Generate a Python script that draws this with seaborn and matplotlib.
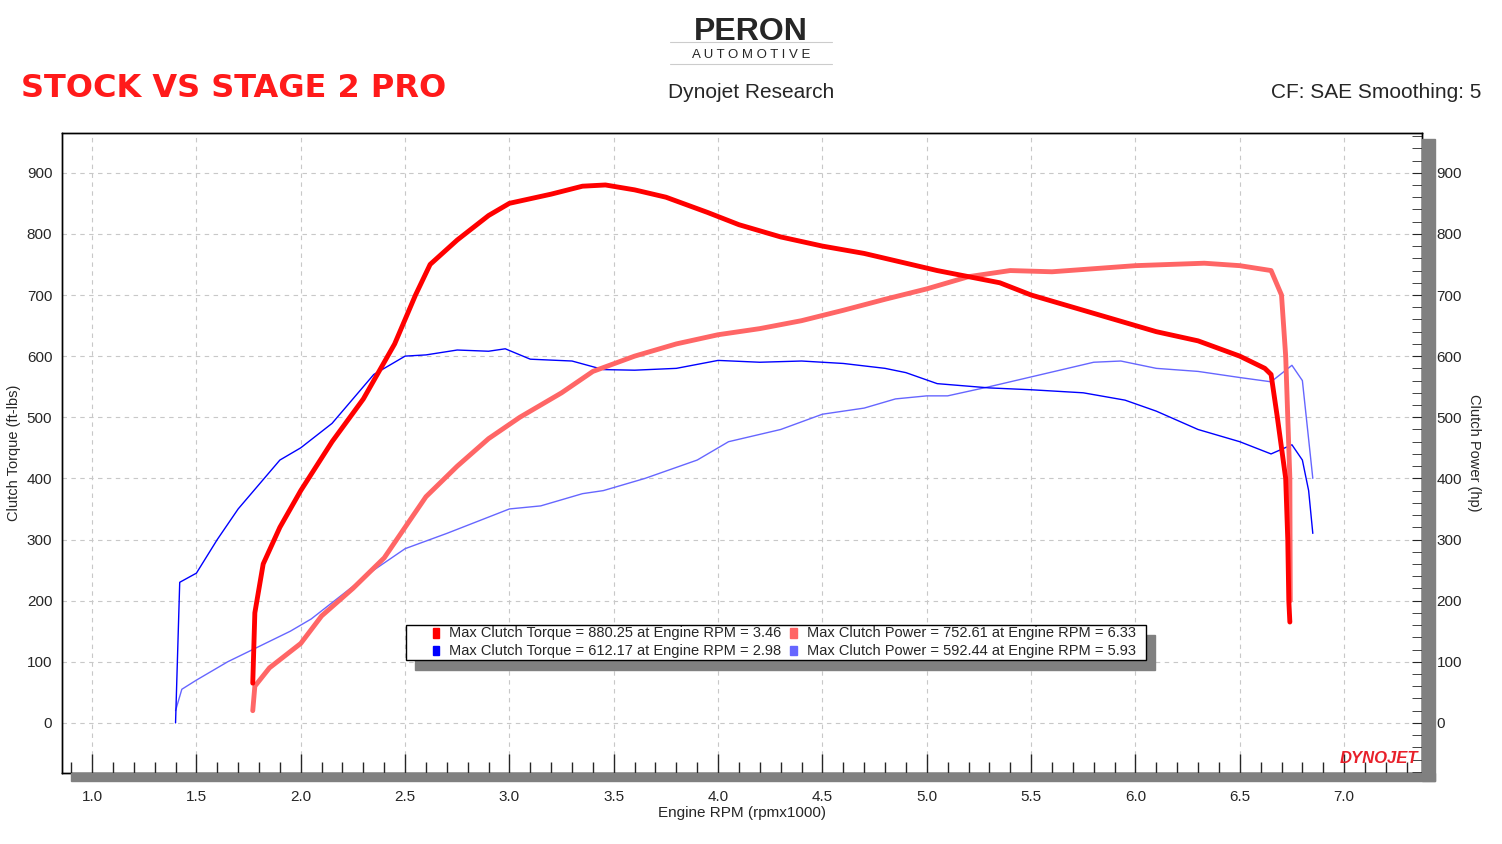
import numpy as np
import pandas as pd
import matplotlib
matplotlib.use("Agg")
import matplotlib.pyplot as plt
import seaborn as sns
from matplotlib.ticker import MultipleLocator
from matplotlib.patches import Rectangle

# ---------- data (read from the dyno sheet) ----------
stock_tq_rpm = [1.40, 1.42, 1.50, 1.60, 1.70, 1.80, 1.90, 2.00, 2.15, 2.25, 2.35, 2.50, 2.60, 2.75, 2.90, 2.98,
                3.10, 3.30, 3.45, 3.60, 3.80, 4.00, 4.20, 4.40, 4.60, 4.80, 4.90, 5.05, 5.30, 5.50, 5.75,
                5.95, 6.10, 6.30, 6.50, 6.65, 6.75, 6.80, 6.83, 6.85]
stock_tq = [0, 230, 245, 300, 350, 390, 430, 450, 490, 530, 570, 600, 602, 610, 608, 612,
            595, 592, 578, 577, 580, 593, 590, 592, 588, 580, 573, 555, 548, 545, 540,
            528, 510, 480, 460, 440, 455, 430, 380, 310]

stock_hp_rpm = [1.40, 1.43, 1.50, 1.65, 1.80, 1.95, 2.05, 2.20, 2.35, 2.50, 2.70, 2.85, 3.00, 3.15, 3.35,
                3.45, 3.65, 3.90, 4.05, 4.30, 4.50, 4.70, 4.85, 5.00, 5.10, 5.30, 5.55, 5.80, 5.93,
                6.10, 6.30, 6.50, 6.65, 6.75, 6.80, 6.85]
stock_hp = [20, 55, 70, 100, 125, 150, 170, 210, 250, 285, 310, 330, 350, 355, 375,
            380, 400, 430, 460, 480, 505, 515, 530, 535, 535, 550, 570, 590, 592,
            580, 575, 565, 558, 585, 560, 400]

s2_tq_rpm = [1.77, 1.78, 1.82, 1.90, 2.00, 2.15, 2.30, 2.45, 2.55, 2.62, 2.75, 2.90, 3.00, 3.20, 3.35,
             3.46, 3.60, 3.75, 3.95, 4.10, 4.30, 4.50, 4.70, 4.90, 5.05, 5.20, 5.35, 5.50, 5.70,
             5.90, 6.10, 6.30, 6.50, 6.62, 6.65, 6.68, 6.72, 6.73, 6.735, 6.74]
s2_tq = [65, 180, 260, 320, 380, 460, 530, 620, 700, 750, 790, 830, 850, 865, 878,
         880, 872, 860, 835, 815, 795, 780, 768, 752, 740, 730, 720, 700, 680,
         660, 640, 625, 600, 580, 570, 500, 400, 300, 200, 165]

s2_hp_rpm = [1.77, 1.78, 1.85, 2.00, 2.10, 2.25, 2.40, 2.50, 2.60, 2.75, 2.90, 3.05, 3.25, 3.40, 3.60,
             3.80, 4.00, 4.20, 4.40, 4.60, 4.80, 5.00, 5.20, 5.40, 5.60, 5.80, 6.00, 6.33, 6.50,
             6.65, 6.70, 6.72, 6.73, 6.74, 6.742]
s2_hp = [20, 60, 90, 130, 175, 220, 270, 320, 370, 420, 465, 500, 540, 575, 600,
         620, 635, 645, 658, 675, 693, 710, 730, 740, 738, 743, 748, 752, 748,
         740, 700, 600, 500, 400, 200]

legend_rows = [
    ("#ff0000", "Max Clutch Torque = 880.25 at Engine RPM = 3.46"),
    ("#0000ff", "Max Clutch Torque = 612.17 at Engine RPM = 2.98"),
    ("#ff6666", "Max Clutch Power = 752.61 at Engine RPM = 6.33"),
    ("#6666ff", "Max Clutch Power = 592.44 at Engine RPM = 5.93"),
]

# ---------- figure ----------
sns.set_style("white")
plt.rcParams["font.family"] = "Liberation Sans"
fig = plt.figure(figsize=(15.02, 8.44), dpi=100)
ax = fig.add_axes([0.0413, 0.0841, 0.9054, 0.7583])

series = [
    (stock_hp_rpm, stock_hp, "#6666ff", 1.0),
    (stock_tq_rpm, stock_tq, "#0000ff", 1.0),
    (s2_hp_rpm, s2_hp, "#ff6666", 3.5),
    (s2_tq_rpm, s2_tq, "#ff0000", 3.5),
]
for xs, ys, col, lw in series:
    d = pd.DataFrame({"rpm": xs, "val": ys})
    sns.lineplot(data=d, x="rpm", y="val", ax=ax, color=col, linewidth=lw,
                 sort=False, estimator=None)

ax.set_xlim(0.856, 7.373)
ax.set_ylim(-82, 965)
ax.set_yticks(range(0, 1000, 100))
ax.set_xticks(np.arange(1.0, 7.01, 0.5))
ax.set_xticklabels([f"{v:.1f}" for v in np.arange(1.0, 7.01, 0.5)])
ax.xaxis.set_minor_locator(MultipleLocator(0.1))
ax.grid(True, which="major", color="#c8c8c8", linestyle=(0, (4, 4)), linewidth=0.8)
ax.set_xlabel("Engine RPM (rpmx1000)", fontsize=11, labelpad=2)
ax.set_ylabel("Clutch Torque (ft-lbs)", fontsize=10.5)

ax2 = ax.twinx()
ax2.set_ylim(ax.get_ylim())
ax2.set_yticks(range(0, 1000, 100))
ax2.yaxis.set_minor_locator(MultipleLocator(20))
ax2.tick_params(axis="y", which="major", direction="inout", length=14, labelsize=11)
ax2.tick_params(axis="y", which="minor", direction="in", length=7)
ax2.set_ylabel("Clutch Power (hp)", fontsize=10.5, rotation=270, labelpad=14)

ax.tick_params(axis="x", which="major", bottom=True, direction="in", length=14,
               width=1, labelsize=11, pad=12)
ax.tick_params(axis="x", which="minor", bottom=True, direction="in", length=8, width=1)
ax.tick_params(axis="y", which="both", left=False, right=False, labelsize=11)

for a in (ax, ax2):
    for sp in a.spines.values():
        sp.set_color("black")
        sp.set_linewidth(1)

# grey shadow frame right/bottom
fig.patches.append(Rectangle((0.9467, 0.075), 0.0087, 0.76, transform=fig.transFigure,
                             color="#808080", zorder=0))
fig.patches.append(Rectangle((0.047, 0.075), 0.9084, 0.0095, transform=fig.transFigure,
                             color="#808080", zorder=0))

# legend box with shadow
lx0, ly0, lw_, lh_ = 0.270, 0.218, 0.493, 0.042
fig.patches.append(Rectangle((lx0 + 0.006, ly0 - 0.012), lw_, lh_, transform=fig.transFigure,
                             color="#808080", zorder=3))
fig.patches.append(Rectangle((lx0, ly0), lw_, lh_, transform=fig.transFigure,
                             facecolor="white", edgecolor="black", linewidth=1, zorder=4))
pos = [(0.288, 0.250), (0.288, 0.229), (0.526, 0.250), (0.526, 0.229)]
for (col, txt), (px, py) in zip(legend_rows, pos):
    fig.patches.append(Rectangle((px, py - 0.0055), 0.0045, 0.011, transform=fig.transFigure,
                                 color=col, zorder=5))
    fig.text(px + 0.011, py, txt, fontsize=10.5, va="center", zorder=6)

# header texts
fig.text(0.014, 0.895, "STOCK VS STAGE 2 PRO", color="#ff1a1a", fontsize=23,
         family="Liberation Sans Narrow", fontweight="bold", va="center")
fig.text(0.5, 0.962, "PERON", fontsize=23, fontweight="bold", ha="center", va="center")
fig.text(0.5, 0.935, "A U T O M O T I V E", fontsize=9.5, ha="center", va="center")
fig.add_artist(plt.Line2D([0.446, 0.554], [0.950, 0.950], color="#cccccc", lw=0.8))
fig.add_artist(plt.Line2D([0.446, 0.554], [0.924, 0.924], color="#cccccc", lw=0.8))
fig.text(0.5, 0.890, "Dynojet Research", fontsize=15, ha="center", va="center")
fig.text(0.986, 0.890, "CF: SAE Smoothing: 5", fontsize=15, ha="right", va="center")
fig.text(0.944, 0.092, "DYNOJET", fontsize=12, fontweight="bold", style="italic",
         color="#e8202a", ha="right", va="bottom")

fig.savefig("out.png", dpi=100)
